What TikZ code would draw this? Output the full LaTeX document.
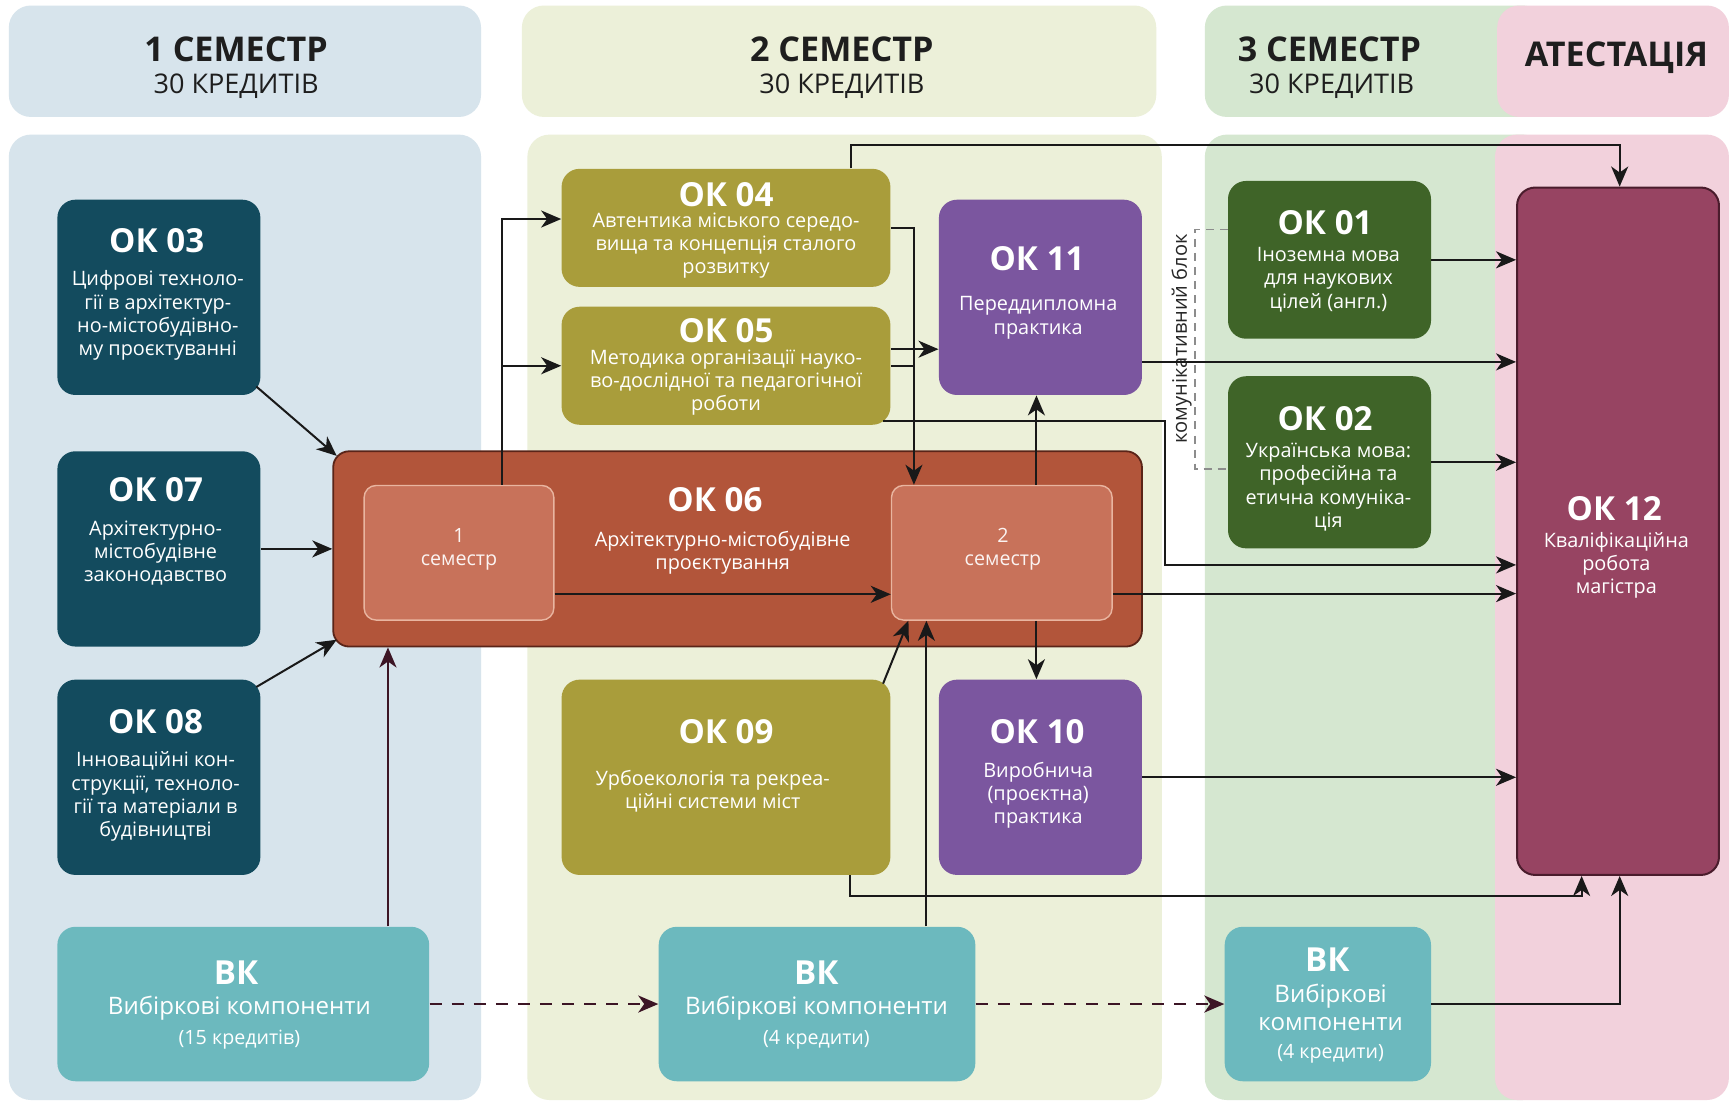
\documentclass[tikz,border=0pt]{standalone}
\usepackage{fontspec}
\setmainfont{Open Sans}
\usetikzlibrary{arrows.meta,calc}
\definecolor{cA}{HTML}{D7E4EC}
\definecolor{cB}{HTML}{ECF0D9}
\definecolor{cC}{HTML}{D5E7D0}
\definecolor{cP}{HTML}{F2D1DC}
\definecolor{teal}{HTML}{134B5E}
\definecolor{vkc}{HTML}{6CB9BE}
\definecolor{rust}{HTML}{B2553A}
\definecolor{rustd}{HTML}{5A2418}
\definecolor{inner}{HTML}{C8725A}
\definecolor{innerb}{HTML}{E9B5A0}
\definecolor{olive}{HTML}{A99D3B}
\definecolor{purp}{HTML}{7B569F}
\definecolor{dkg}{HTML}{3F6428}
\definecolor{maroon}{HTML}{974462}
\definecolor{maroond}{HTML}{4A1C2C}
\definecolor{vkarr}{HTML}{3C1525}
\definecolor{hdtext}{HTML}{1E1E1E}
\begin{document}
\begin{tikzpicture}[x=0.55pt,y=-0.55pt,
  bx/.style n args={3}{fill=#1,minimum width=#2*0.55pt,minimum height=#3*0.55pt,rounded corners=9pt,inner sep=0pt},
  ttl/.style={text=white,font=\bfseries\fontsize{16.5}{18}\selectfont,inner sep=0pt},
  bdy/.style={text=white,align=center,font=\fontsize{9.9}{11.55}\selectfont,inner sep=0pt},
  vkb/.style={text=white,font=\fontsize{12}{14}\selectfont,inner sep=0pt},
  vks/.style={text=white,font=\fontsize{9.8}{11.55}\selectfont,inner sep=0pt},
  inb/.style={text=white!92!inner,align=center,font=\fontsize{9.8}{11.55}\selectfont,inner sep=0pt},
  hd/.style={text=hdtext,font=\bfseries\fontsize{17}{20}\selectfont,inner sep=0pt},
  hs/.style={text=hdtext,font=\fontsize{13.5}{16}\selectfont,inner sep=0pt},
  tip/.style={-{Stealth[length=10pt,width=8.5pt,inset=3pt]}},
  arr/.style={draw=black!90,line width=1pt,tip},
  ln/.style={draw=black!90,line width=1pt},
  varr/.style={draw=vkarr,line width=1pt,tip},
  darr/.style={draw=vkarr,line width=1.2pt,dash pattern=on 6pt off 5pt,tip}
]
\useasboundingbox[fill=white] (0,0) rectangle (1568,999);
% headers
\fill[cA,rounded corners=11pt] (8,5) rectangle (436,106);
\fill[cB,rounded corners=11pt] (473,5) rectangle (1048,106);
\fill[cC,rounded corners=11pt] (1092,5) rectangle (1400,106);
\fill[cP,rounded corners=11pt] (1357,5) rectangle (1567,106);
% panels
\fill[cA,rounded corners=11pt] (8,122) rectangle (436,997);
\fill[cB,rounded corners=11pt] (478,122) rectangle (1053,997);
\fill[cC,rounded corners=11pt] (1092,122) rectangle (1400,997);
\fill[cP,rounded corners=11pt] (1355,122) rectangle (1567,997);
% header texts
\node[hd] (h1a) at (214,45) {1 СЕМЕСТР};
\node[hs] (h1b) at (214,78) {30 КРЕДИТІВ};
\node[hd] (h2a) at (763,45) {2 СЕМЕСТР};
\node[hs] (h2b) at (763,78) {30 КРЕДИТІВ};
\node[hd] (h3a) at (1205,45) {3 СЕМЕСТР};
\node[hs] (h3b) at (1207,78) {30 КРЕДИТІВ};
\node[hd] (h4a) at (1465,52) {АТЕСТАЦІЯ};
% boxes
\node[bx={teal}{184}{177}] (ok03) at (144,269.5) {};
\node[bx={teal}{184}{177}] (ok07) at (144,497.5) {};
\node[bx={teal}{184}{177}] (ok08) at (144,704.5) {};
\node[bx={vkc}{337}{140}] (vk1) at (220.5,910) {};
\node[bx={rust}{733}{177},draw=rustd,line width=0.9pt,rounded corners=8pt] (ok06) at (668.5,497.5) {};
\node[bx={inner}{172}{122},draw=innerb,line width=0.7pt,rounded corners=6pt] (s1) at (416,501) {};
\node[bx={inner}{200}{122},draw=innerb,line width=0.7pt,rounded corners=6pt] (s2) at (908,501) {};
\node[bx={olive}{298}{107}] (ok04) at (658,206.5) {};
\node[bx={olive}{298}{107}] (ok05) at (658,331.5) {};
\node[bx={purp}{184}{177}] (ok11) at (943,269.5) {};
\node[bx={olive}{298}{177}] (ok09) at (658,704.5) {};
\node[bx={purp}{184}{177}] (ok10) at (943,704.5) {};
\node[bx={vkc}{287}{140}] (vk2) at (740.5,910) {};
\node[bx={dkg}{184}{143}] (ok01) at (1205,235.5) {};
\node[bx={dkg}{184}{156}] (ok02) at (1205,419) {};
\node[bx={vkc}{187}{140}] (vk3) at (1203.5,910) {};
\node[bx={maroon}{183}{623},draw=maroond,line width=1pt] (ok12) at (1466.5,481.5) {};
% box texts
\node[ttl] (t03) at (142,218) {ОК 03};
\node[bdy] (b03) at (143,286) {Цифрові техноло-\\гії в архітектур-\\но-містобудівно-\\му проєктуванні};
\node[ttl] (t07) at (141,444) {ОК 07};
\node[bdy] (b07) at (141,501) {Архітектурно-\\містобудівне\\законодавство};
\node[ttl] (t08) at (141,654) {ОК 08};
\node[bdy] (b08) at (141,722) {Інноваційні кон-\\струкції, техноло-\\гії та матеріали в\\будівництві};
\node[ttl] (tvk1) at (214,882) {ВК};
\node[vkb] (bvk1) at (217,914) {Вибіркові компоненти};
\node[vks] (cvk1) at (217,942) {(15 кредитів)};
\node[ttl] (t06) at (648,453) {ОК 06};
\node[bdy] (b06) at (655,501) {Архітектурно-містобудівне\\проєктування};
\node[inb] (ts1) at (416,498) {1\\семестр};
\node[inb] (ts2) at (909,498) {2\\семестр};
\node[ttl] (t04) at (658,176) {ОК 04};
\node[bdy] (b04) at (658,222.5) {Автентика міського середо-\\вища та концепція сталого\\розвитку};
\node[ttl] (t05) at (658,300) {ОК 05};
\node[bdy] (b05) at (658,347) {Методика організації науко-\\во-дослідної та педагогічної\\роботи};
\node[ttl] (t11) at (940,234) {ОК 11};
\node[bdy] (b11) at (941,288) {Переддипломна\\практика};
\node[ttl] (t09) at (658,663) {ОК 09};
\node[bdy] (b09) at (646,717) {Урбоекологія та рекреа-\\ційні системи міст};
\node[ttl] (t10) at (940,663) {ОК 10};
\node[bdy] (b10) at (941,720.5) {Виробнича\\(проєктна)\\практика};
\node[ttl] (tvk2) at (740,882) {ВК};
\node[vkb] (bvk2) at (740,914) {Вибіркові компоненти};
\node[vks] (cvk2) at (740,942) {(4 кредити)};
\node[ttl] (t01) at (1201,202) {ОК 01};
\node[bdy] (b01) at (1204,253.5) {Іноземна мова\\для наукових\\цілей (англ.)};
\node[ttl] (t02) at (1201,379) {ОК 02};
\node[bdy] (b02) at (1204,441.5) {Українська мова:\\професійна та\\етична комуніка-\\ція};
\node[ttl] (tvk3) at (1203,870) {ВК};
\node[vkb,align=center,font=\fontsize{12}{14.3}\selectfont] (bvk3) at (1206,913) {Вибіркові\\компоненти};
\node[vks] (cvk3) at (1206,955) {(4 кредити)};
\node[ttl] (t12) at (1463,461) {ОК 12};
\node[bdy] (b12) at (1465,512.5) {Кваліфікаційна\\робота\\магістра};
% communicative block label
\node[rotate=90,text=black!85,font=\fontsize{10}{12}\selectfont,inner sep=0pt] (kb) at (1071,307) {комунікативний блок};
\draw[black!45,line width=0.6pt,dash pattern=on 4pt off 3pt] (ok01.west |- 0,208) -- (1083,208) -- (1083,425) -- (ok02.west |- 0,425);
% connectors
\draw[arr] ($(ok03.south east)+(-4,-8)$) -- ($(ok06.north west)+(4,5)$);
\draw[arr] (ok07.east) -- (ok07.east -| ok06.west);
\draw[arr] ($(ok08.north east)+(-4,7)$) -- ($(ok06.south west)+(4,-7)$);
\draw[varr] ($(vk1.north west)+(300,0)$) coordinate (v1) -- (v1 |- ok06.south);
\draw[arr] ($(s1.north west)+(126,0)$) coordinate (s1t) |- ($(ok04.west)+(0,-8)$);
\draw[arr] (s1t |- ok05.west) -- (ok05.west);
\draw[arr] ($(s1.south east)+(0,-24)$) coordinate (s1r) -- (s1r -| s2.west);
\draw[arr] (ok04.east) -| ($(s2.north west)+(21,0)$) coordinate (s2a);
\draw[ln] (ok05.east) -- (ok05.east -| s2a);
\draw[arr] ($(ok05.east)+(0,-15)$) coordinate (o5a) -- (o5a -| ok11.west);
\draw[arr] ($(ok05.south east)+(-7,-4)$) -| ($(ok12.west)+(-318,30.5)$) -- ($(ok12.west)+(0,30.5)$);
\draw[arr] ($(ok11.east)+(0,58.5)$) coordinate (o11) -- (o11 -| ok12.west);
\draw[arr] ($(ok04.north east)+(-36,0)$) -- ++(0,-21) -| ($(ok12.north)+(1.5,0)$);
\draw[arr] ($(s2.north west)+(132,0)$) coordinate (s2t) -- (s2t |- ok11.south);
\draw[arr] ($(s2.south west)+(132,0)$) coordinate (s2b) -- (s2b |- ok10.north);
\draw[arr] ($(s2.east)+(0,37)$) coordinate (s2r) -- (s2r -| ok12.west);
\draw[arr] (ok01.east) -- (ok01.east -| ok12.west);
\draw[arr] (ok02.east) -- (ok02.east -| ok12.west);
\draw[arr] (ok10.east) -- (ok10.east -| ok12.west);
\draw[arr] ($(ok09.north east)+(-7,4)$) -- ($(s2.south west)+(16,0)$);
\draw[arr] ($(vk2.north west)+(243,0)$) coordinate (v2) -- (v2 |- s2.south);
\draw[arr] ($(ok09.south west)+(262,0)$) -- ++(0,19) -| ($(ok12.south)+(-33,0)$);
\draw[arr] (vk3.east) -| ($(ok12.south)+(1.5,0)$);
\draw[darr] (vk1.east) -- (vk2.west);
\draw[darr] (vk2.east) -- (vk3.west);
\end{tikzpicture}
\end{document}
